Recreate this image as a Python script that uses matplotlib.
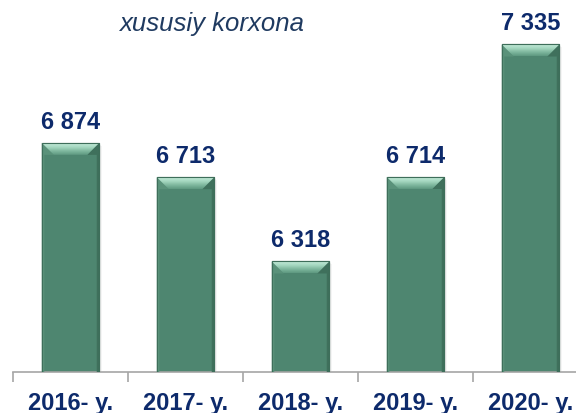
import matplotlib
matplotlib.use('Agg')
import matplotlib.pyplot as plt
import numpy as np
from matplotlib.patches import Polygon, Rectangle
from matplotlib.colors import LinearSegmentedColormap

years = ['2016- y.', '2017- y.', '2018- y.', '2019- y.', '2020- y.']
values = [6874, 6713, 6318, 6714, 7335]
value_labels = ['6 874', '6 713', '6 318', '6 714', '7 335']
title = 'xususiy korxona'

W, H = 576, 414
DPI = 100
fig = plt.figure(figsize=(W / DPI, H / DPI), dpi=DPI)
ax_left, ax_bottom_px, ax_w_px, ax_h_px = 13, 373, 575, 373
ax = fig.add_axes([ax_left / W, 1 - ax_bottom_px / H, ax_w_px / W, ax_h_px / H])

ymin = 5800
units_per_px = 4.687
ymax = ymin + ax_h_px * units_per_px
x = np.arange(len(years))
bar_w = 0.5

body = '#4E8670'
edge = '#3E6E5A'
navy = '#0D2A6B'

xpx = len(years) / ax_w_px   # data per px in x
ypx = units_per_px           # data per px in y

heights = [v - ymin for v in values]

# soft shadow
for xi, h in zip(x, heights):
    for k, a in [(3, 0.08), (2, 0.10), (1, 0.14)]:
        ax.add_patch(Rectangle((xi - bar_w / 2 + k * xpx, ymin), bar_w, h - k * ypx,
                               facecolor='#808080', edgecolor='none', alpha=a, zorder=1))

ax.bar(x, heights, bottom=ymin, width=bar_w, color=body, edgecolor=edge,
       linewidth=0.8, zorder=2)

cmap_top = LinearSegmentedColormap.from_list('top', ['#5E9880', '#7FB89E', '#A6D8C1', '#C2EAD8'])
grad = np.linspace(0, 1, 64).reshape(-1, 1)

for xi, v in zip(x, values):
    x0, x1 = xi - bar_w / 2, xi + bar_w / 2
    top = v
    dx, dy = 12 * xpx, 12 * ypx
    sx = 2.5 * xpx
    left = Polygon([(x0, top), (x0 + dx, top - dy), (x0 + sx, top - dy),
                    (x0 + sx, ymin), (x0, ymin)], closed=True,
                   facecolor='#5A927A', edgecolor='none', zorder=3)
    right = Polygon([(x1, top), (x1 - dx, top - dy), (x1 - sx, top - dy),
                     (x1 - sx, ymin), (x1, ymin)], closed=True,
                    facecolor='#3F705C', edgecolor='none', zorder=3)
    ax.add_patch(left)
    ax.add_patch(right)
    trap = Polygon([(x0, top), (x1, top), (x1 - dx, top - dy), (x0 + dx, top - dy)],
                   closed=True, facecolor='none', edgecolor='none', zorder=4)
    ax.add_patch(trap)
    im = ax.imshow(grad, extent=[x0, x1, top - dy, top], origin='lower',
                   aspect='auto', cmap=cmap_top, zorder=4, interpolation='bilinear')
    im.set_clip_path(trap)
    ax.add_patch(Rectangle((x0, ymin), bar_w, top - ymin, facecolor='none',
                           edgecolor=edge, linewidth=0.8, zorder=5))

for xi, v, lab in zip(x, values, value_labels):
    ax.annotate(lab, (xi, v), xytext=(0, 11), textcoords='offset points',
                ha='center', va='baseline', fontsize=17, fontweight='bold',
                color=navy, family='Liberation Sans', zorder=6)

ax.set_xlim(-0.5, len(years) - 0.5)
ax.set_ylim(ymin, ymax)

for s in ['top', 'right', 'left']:
    ax.spines[s].set_visible(False)
ax.spines['bottom'].set_color('#A6A6A6')
ax.spines['bottom'].set_linewidth(1.2)
ax.set_yticks([])
ax.set_xticks(x)
ax.set_xticklabels(years, fontsize=17, fontweight='bold', color=navy,
                   family='Liberation Sans')
ax.set_xticks(np.arange(-0.5, len(years)), minor=True)
ax.tick_params(axis='x', which='major', length=0, pad=14)
ax.tick_params(axis='x', which='minor', length=7, width=1.2, color='#A6A6A6',
               direction='out')
ax.patch.set_alpha(0)

fig.text(212 / W, 1 - 31 / H, title, ha='center', va='baseline', style='italic',
         fontsize=18.5, color='#1F3A60', family='Liberation Sans')

fig.savefig('out.png', dpi=DPI)
